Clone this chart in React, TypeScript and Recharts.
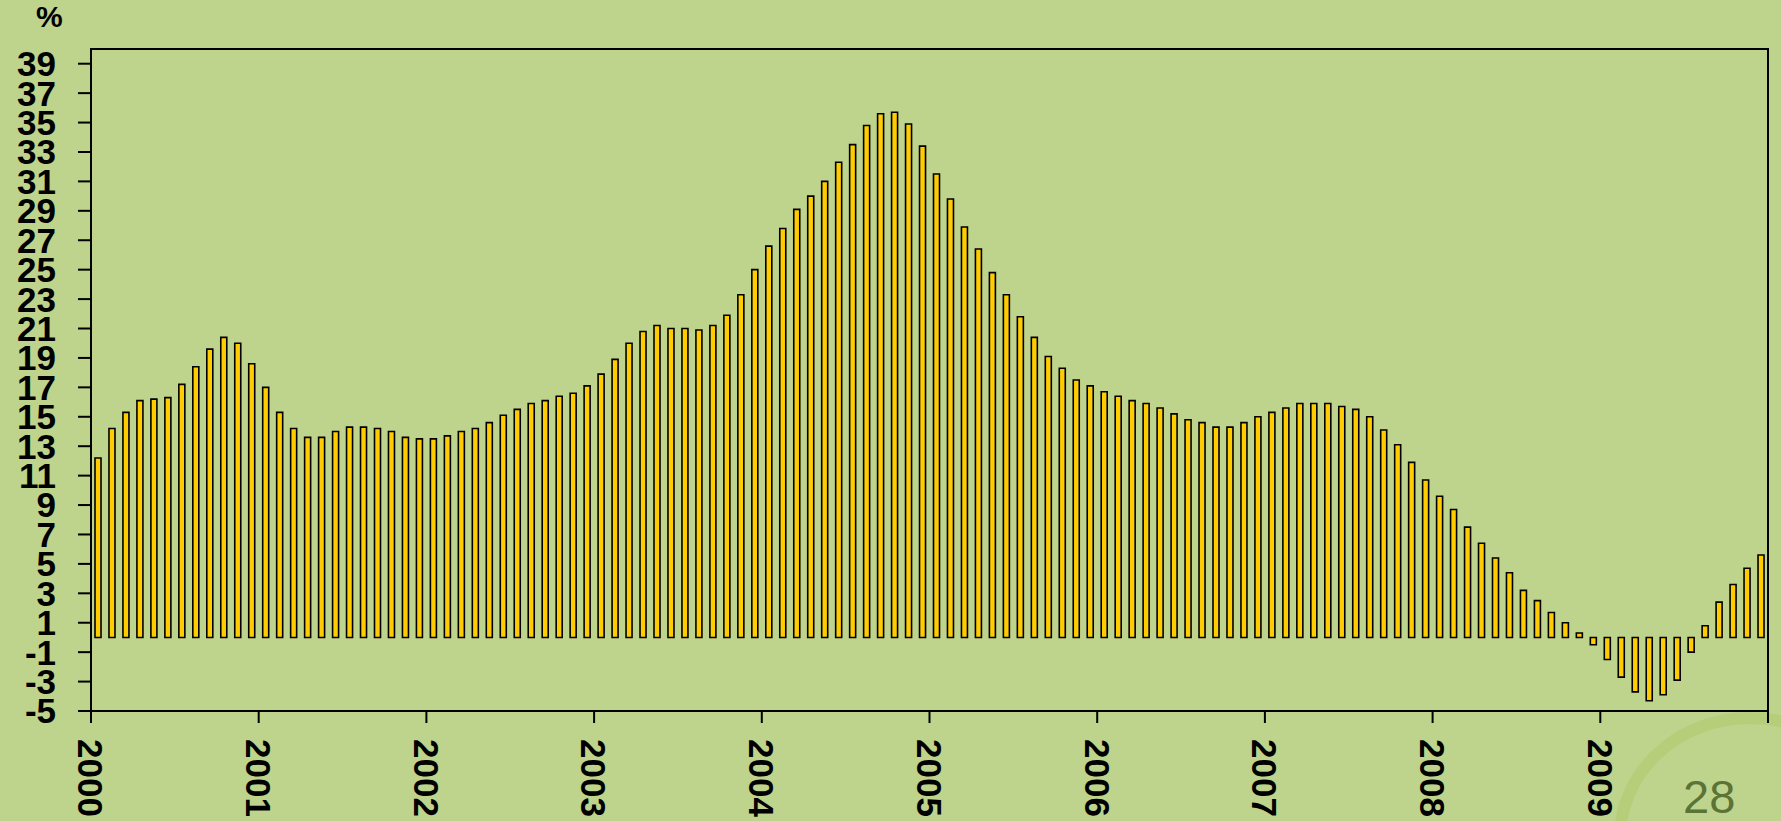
import { BarChart, Bar, XAxis, YAxis, ReferenceArea } from 'recharts';

// year labels, one per 12 monthly bars
const YEARS = ['2000', '2001', '2002', '2003', '2004', '2005', '2006', '2007', '2008', '2009'];

// monthly growth, %, Jan 2000 .. Dec 2009
const GROWTH = [
  12.2, 14.2, 15.3, 16.1, 16.2, 16.3, 17.2, 18.4, 19.6, 20.4, 20.0, 18.6,
  17.0, 15.3, 14.2, 13.6, 13.6, 14.0, 14.3, 14.3, 14.2, 14.0, 13.6, 13.5,
  13.5, 13.7, 14.0, 14.2, 14.6, 15.1, 15.5, 15.9, 16.1, 16.4, 16.6, 17.1,
  17.9, 18.9, 20.0, 20.8, 21.2, 21.0, 21.0, 20.9, 21.2, 21.9, 23.3, 25.0,
  26.6, 27.8, 29.1, 30.0, 31.0, 32.3, 33.5, 34.8, 35.6, 35.7, 34.9, 33.4,
  31.5, 29.8, 27.9, 26.4, 24.8, 23.3, 21.8, 20.4, 19.1, 18.3, 17.5, 17.1,
  16.7, 16.4, 16.1, 15.9, 15.6, 15.2, 14.8, 14.6, 14.3, 14.3, 14.6, 15.0,
  15.3, 15.6, 15.9, 15.9, 15.9, 15.7, 15.5, 15.0, 14.1, 13.1, 11.9, 10.7,
  9.6, 8.7, 7.5, 6.4, 5.4, 4.4, 3.2, 2.5, 1.7, 1.0, 0.3, -0.5,
  -1.5, -2.7, -3.7, -4.3, -3.9, -2.9, -1.0, 0.8, 2.4, 3.6, 4.7, 5.6,
];

const Y_TICKS = [-5, -3, -1, 1, 3, 5, 7, 9, 11, 13, 15, 17, 19, 21, 23, 25, 27, 29, 31, 33, 35, 37, 39];
const X_TICKS = [0, 12, 24, 36, 48, 60, 72, 84, 96, 108, 120];

const data = GROWTH.map((v, i) => ({ pos: i + 0.5, value: v }));

const BG = '#BED38B';
const FONT = '"Liberation Sans", Arial, sans-serif';

function YearTick(props: any) {
  const { x, y, payload } = props;
  const label = YEARS[payload.value / 12] ?? '';
  if (!label) return null;
  return (
    <text
      transform={`translate(${x},${y + 14}) rotate(90)`}
      textAnchor="start"
      dy="0.36em"
      fill="#000"
      fontSize={35}
      fontWeight={700}
      fontFamily={FONT}
    >
      {label}
    </text>
  );
}

export default function App() {
  return (
    <div style={{ position: 'absolute', left: 0, top: 0, width: 1781, height: 821, background: BG, overflow: 'hidden' }}>
      {/* faint swoosh behind the page number */}
      <svg width={1781} height={821} style={{ position: 'absolute', left: 0, top: 0 }}>
        <ellipse cx={1750} cy={838} rx={130} ry={120} fill="none" stroke="#AFCB6E" strokeWidth={12} opacity={0.55} />
      </svg>
      <div style={{ position: 'absolute', left: 0, top: 0 }}>
        <BarChart width={1781} height={821} data={data} margin={{ top: 49, right: 13, bottom: 0, left: 0 }}>
          <XAxis
            dataKey="pos"
            type="number"
            domain={[0, 120]}
            ticks={X_TICKS}
            interval={0}
            height={110}
            tick={<YearTick />}
            tickSize={12}
            axisLine={{ stroke: '#000', strokeWidth: 2 }}
            tickLine={{ stroke: '#000', strokeWidth: 2 }}
          />
          <YAxis
            type="number"
            domain={[-5, 40]}
            ticks={Y_TICKS}
            interval={0}
            width={91}
            tickSize={13}
            tickMargin={22}
            axisLine={{ stroke: '#000', strokeWidth: 2 }}
            tickLine={{ stroke: '#000', strokeWidth: 2 }}
            tick={{ fill: '#000', fontSize: 35, fontWeight: 700, fontFamily: FONT }}
          />
          <ReferenceArea x1={0} x2={120} y1={-5} y2={40} fill="none" stroke="#000" strokeWidth={2} ifOverflow="visible" />
          <Bar dataKey="value" fill="#FFCC00" stroke="#000" strokeWidth={1.6} barSize={6} isAnimationActive={false} />
        </BarChart>
      </div>
      <div style={{ position: 'absolute', left: 36, top: 0, fontFamily: FONT, fontWeight: 700, fontSize: 30, color: '#000' }}>%</div>
      <div style={{ position: 'absolute', left: 1683, top: 769, fontFamily: FONT, fontSize: 47, color: '#5A7336' }}>28</div>
    </div>
  );
}
